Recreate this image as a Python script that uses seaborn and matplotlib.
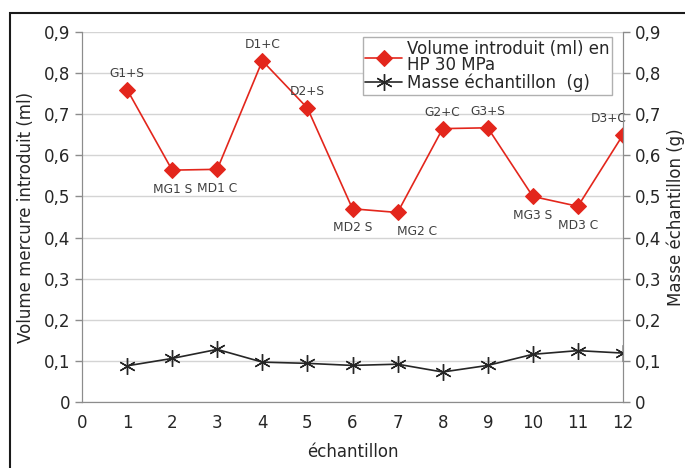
import numpy as np
import pandas as pd
import seaborn as sns
import matplotlib.pyplot as plt
from matplotlib.patches import Rectangle

# data
echantillon = [1, 2, 3, 4, 5, 6, 7, 8, 9, 10, 11, 12]
volume = [0.760, 0.564, 0.566, 0.830, 0.715, 0.470, 0.461, 0.665, 0.667, 0.500, 0.476, 0.650]
masse = [0.088, 0.106, 0.128, 0.097, 0.094, 0.089, 0.092, 0.073, 0.089, 0.116, 0.125, 0.119]
noms = ['G1+S', 'MG1 S', 'MD1 C', 'D1+C', 'D2+S', 'MD2 S', 'MG2 C', 'G2+C', 'G3+S', 'MG3 S', 'MD3 C', 'D3+C']
y_ticks = [0, 0.1, 0.2, 0.3, 0.4, 0.5, 0.6, 0.7, 0.8, 0.9]

df = pd.DataFrame({'echantillon': echantillon, 'volume': volume, 'masse': masse, 'nom': noms})

sns.set_style('white')
plt.rcParams['font.family'] = ['DejaVu Sans']

fig = plt.figure(figsize=(6.85, 4.68), dpi=100)
ax = fig.add_axes([0.1197, 0.141, 0.7898, 0.7906])
ax2 = ax.twinx()

red = '#e3261c'
gray = '#8c8c8c'
txt = '#262626'

sns.lineplot(data=df, x='echantillon', y='volume', ax=ax, color=red, marker='D',
             markersize=8, markeredgecolor=red, linewidth=1.2,
             label='Volume introduit (ml) en\nHP 30 MPa', legend=False)
sns.lineplot(data=df, x='echantillon', y='masse', ax=ax2, color='#262626', marker=(6, 2, 0),
             markersize=12, markeredgecolor='#262626', markeredgewidth=1.0, linewidth=1.2,
             label='Masse échantillon  (g)', legend=False)

# point labels
above = {'G1+S', 'D1+C', 'D2+S', 'G2+C', 'G3+S', 'D3+C'}
for _, r in df.iterrows():
    if r['nom'] in above:
        dx, dy, va = 0, 7, 'bottom'
        if r['nom'] == 'D3+C':
            dx = -10
    else:
        dx, dy, va = 0, -9, 'top'
        if r['nom'] == 'MG2 C':
            dx = 14
    ax.annotate(r['nom'], (r['echantillon'], r['volume']), xytext=(dx, dy),
                textcoords='offset points', ha='center', va=va, fontsize=8.8, color='#404040')

for a in (ax, ax2):
    a.set_ylim(0, 0.9)
    a.set_yticks(y_ticks)
    a.set_yticklabels(['0' if v == 0 else f'{v:.1f}'.replace('.', ',') for v in y_ticks])
    a.tick_params(axis='y', labelsize=12, colors=gray, labelcolor=txt, length=5, width=1, direction='out')
    for s in a.spines.values():
        s.set_color(gray)
    a.spines['top'].set_visible(False)

ax.set_xlim(0, 12)
ax.set_xticks(range(0, 13))
ax.tick_params(axis='x', labelsize=12, colors=gray, labelcolor=txt, length=5, width=1, direction='out')
ax.yaxis.grid(True, color='#d4d4d4', linewidth=1)
ax.set_axisbelow(True)
ax2.grid(False)

ax.set_xlabel('échantillon', fontsize=12, color=txt, labelpad=8)
ax.set_ylabel('Volume mercure introduit (ml)', fontsize=12, color=txt, labelpad=6)
ax2.set_ylabel('Masse échantillon (g)', fontsize=12, color=txt, labelpad=4)

h1, l1 = ax.get_legend_handles_labels()
h2, l2 = ax2.get_legend_handles_labels()
leg = ax2.legend(h1 + h2, l1 + l2, loc='upper right', bbox_to_anchor=(0.995, 1.008), fontsize=12,
                 frameon=True, fancybox=False, edgecolor='#b0b0b0', framealpha=1,
                 handlelength=2.2, handletextpad=0.3, borderpad=0.15, labelspacing=0.0)
for t in leg.get_texts():
    t.set_color(txt)
    t.set_linespacing(0.85)

fig.patches.append(Rectangle((10 / 685, -0.05), 1.0, 1 - 13 / 468 + 0.05, transform=fig.transFigure,
                             fill=False, edgecolor='#1a1a1a', linewidth=1.5))

fig.savefig('out.png', dpi=100)
